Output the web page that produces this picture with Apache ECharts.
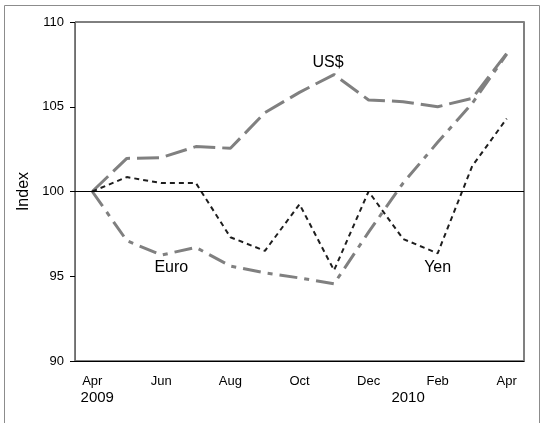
<!DOCTYPE html>
<html>
<head>
<meta charset="utf-8">
<script src="https://cdn.jsdelivr.net/npm/echarts@6/dist/echarts.min.js"></script>
<style>
  html, body { margin: 0; padding: 0; background: #fff; }
  #chart { width: 545px; height: 423px; }
</style>
</head>
<body>
<div id="chart"></div>
<script>
// month categories, Apr 2009 .. Apr 2010
const months = ['Apr', 'May', 'Jun', 'Jul', 'Aug', 'Sep', 'Oct', 'Nov', 'Dec', 'Jan', 'Feb', 'Mar', 'Apr'];
const years = ['2009', '', '', '', '', '', '', '', '', '2010', '', '', ''];

// index values
const usd = [100, 101.95, 102.0, 102.65, 102.55, 104.65, 105.85, 106.9, 105.4, 105.3, 105.0, 105.5, 108.15];
const euro = [100, 97.1, 96.25, 96.7, 95.6, 95.2, 94.9, 94.55, 97.6, 100.5, 102.9, 105.2, 108.1];
const yen = [100, 100.85, 100.5, 100.5, 97.3, 96.5, 99.25, 95.35, 100.0, 97.2, 96.35, 101.5, 104.3];

const yTicks = [90, 95, 100, 105, 110];
const baseline = 100;

const font = "'Liberation Sans', Arial, sans-serif";

// put a name label on one point of a series
const withLabel = (values, idx, text, label) => values.map((v, i) => i === idx
  ? { value: v, label: Object.assign({ show: true, formatter: text, color: '#000', fontSize: 16, fontFamily: font }, label) }
  : v);

const chart = echarts.init(document.getElementById('chart'));

const option = {
  animation: false,
  textStyle: { fontFamily: font },
  graphic: [{
    type: 'rect',
    z: -1,
    shape: { x: 4.5, y: 5.5, width: 535, height: 440 },
    style: { fill: 'none', stroke: '#8c8c8c', lineWidth: 1 }
  }],
  grid: {
    left: 75,
    right: 21,
    top: 22,
    bottom: 62,
    show: true,
    borderColor: '#000',
    borderWidth: 1
  },
  xAxis: [
    {
      type: 'category',
      data: months,
      boundaryGap: true,
      axisLine: { lineStyle: { color: '#000', width: 1 } },
      axisTick: { alignWithLabel: true, interval: 0, length: 3, lineStyle: { color: '#000' } },
      axisLabel: { interval: 1, margin: 14, color: '#000', fontSize: 13, fontFamily: font },
      splitLine: { show: false }
    },
    {
      // years under the month labels
      type: 'category',
      data: years,
      position: 'bottom',
      boundaryGap: true,
      axisLine: { show: false },
      axisTick: { show: false },
      axisLabel: {
        interval: (i) => years[i] !== '',
        margin: 29,
        color: '#000',
        fontSize: 15,
        fontFamily: font,
        padding: [0, 0, 0, 10]
      },
      splitLine: { show: false }
    },
    {
      // inner half of the crossing ticks
      type: 'category',
      data: months,
      position: 'bottom',
      boundaryGap: true,
      axisLine: { show: false },
      axisTick: { inside: true, alignWithLabel: true, interval: 0, length: 3, lineStyle: { color: '#000' } },
      axisLabel: { show: false },
      splitLine: { show: false }
    }
  ],
  yAxis: [
    {
      type: 'value',
      min: yTicks[0],
      max: yTicks[yTicks.length - 1],
      interval: 5,
      name: 'Index',
      nameLocation: 'middle',
      nameGap: 34,
      nameTextStyle: { color: '#000', fontSize: 16, fontFamily: font },
      axisLine: { show: true, lineStyle: { color: '#6e6e6e', width: 1 } },
      axisTick: { show: true, length: 5, lineStyle: { color: '#000' } },
      axisLabel: { margin: 11, color: '#000', fontSize: 13, fontFamily: font },
      splitLine: { show: false }
    },
    {
      type: 'value',
      position: 'right',
      min: yTicks[0],
      max: yTicks[yTicks.length - 1],
      axisLine: { show: true, lineStyle: { color: '#808080', width: 2 } },
      axisTick: { show: false },
      axisLabel: { show: false },
      splitLine: { show: false }
    }
  ],
  series: [
    {
      name: 'US$',
      type: 'line',
      data: withLabel(usd, 7, 'US$', { position: 'top', distance: 4, offset: [-6, 0] }),
      showSymbol: true,
      symbolSize: 0,
      lineStyle: { color: '#808080', width: 3, type: [22, 7] },
      markLine: {
        silent: true,
        symbol: 'none',
        label: { show: false },
        lineStyle: { color: '#000', width: 1, type: 'solid' },
        data: [{ yAxis: baseline }]
      }
    },
    {
      name: 'Euro',
      type: 'line',
      data: withLabel(euro, 2, 'Euro', { position: 'bottom', distance: 5, offset: [10, 0] }),
      showSymbol: true,
      symbolSize: 0,
      lineStyle: { color: '#808080', width: 3, type: [18, 7, 5, 7] }
    },
    {
      name: 'Yen',
      type: 'line',
      data: withLabel(yen, 10, 'Yen', { position: 'bottom', distance: 6 }),
      showSymbol: true,
      symbolSize: 0,
      lineStyle: { color: '#1e1e1e', width: 2, type: [5, 4] }
    }
  ]
};

chart.setOption(option);
</script>
</body>
</html>
